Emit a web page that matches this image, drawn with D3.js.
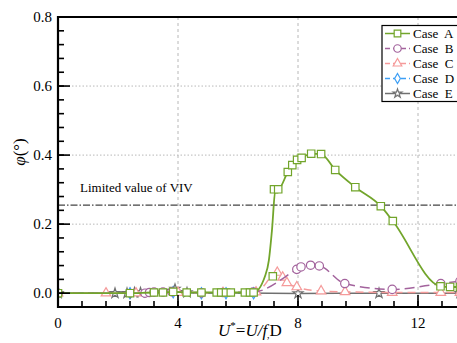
<!DOCTYPE html>
<html>
<head>
<meta charset="utf-8">
<script src="https://cdn.jsdelivr.net/npm/d3@7"></script>
<style>
  body { margin: 0; background: #fff; }
  svg { font-family: "Liberation Serif", "DejaVu Serif", serif; }
</style>
</head>
<body>
<script>
// data
const caseA = [[0, 0.0], [2.4, 0.0], [3.2, 0.002], [3.5, 0.002], [3.84, 0.004], [4.29, 0.002], [4.78, 0.002],
  [5.29, 0.002], [5.44, 0.002], [5.6, 0.002], [5.76, 0.002], [6.23, 0.002], [6.4, 0.002], [6.52, 0.002],
  [7.2, 0.301], [7.34, 0.301], [7.66, 0.351], [7.81, 0.371], [7.97, 0.386], [8.12, 0.392],
  [8.44, 0.404], [8.77, 0.403], [9.24, 0.357], [9.91, 0.307], [10.76, 0.252], [11.16, 0.209],
  [12.75, 0.02], [13.07, 0.018], [13.4, 0.018]]
// lone square below the jump (not on the line)
const caseAExtra = [[7.16, 0.049]]
// where the steep rise of the Case A line passes
const caseARise = [[6.9, 0.049], [7.03, 0.096], [7.13, 0.18], [7.25, 0.301]]
const caseB = [[0, 0.0], [2.9, 0.0], [3.05, 0.002], [3.2, 0.003], [3.5, 0.003], [3.8, 0.004], [4.78, 0.001],
  [5.5, 0.002], [6.5, 0.003], [7.96, 0.069], [8.1, 0.076], [8.42, 0.081], [8.71, 0.079], [9.56, 0.028],
  [11.14, 0.011], [12.76, 0.028], [13.4, 0.035]]
const caseC = [[0, 0.0], [1.6, 0.0], [2.6, 0.0], [4.0, 0.002], [5.5, 0.001], [6.6, 0.003], [7.31, 0.060],
  [7.49, 0.046], [7.63, 0.030], [7.96, 0.018], [8.77, 0.006], [9.57, 0.004], [11.14, 0.002],
  [12.76, 0.002], [13.4, 0.002]]
const caseD = [[0, 0.0], [2.4, 0.0], [3.84, 0.003], [4.78, 0.0], [5.6, 0.0], [6.52, 0.0]]
const caseE = [[0, 0.0], [1.9, 0.0], [2.3, 0.0], [2.55, 0.002], [2.75, 0.002], [3.9, 0.012], [4.3, 0.002],
  [8.0, -0.001], [10.7, 0.0], [13.4, 0.0]]
const limitVIV = 0.255
const xTicks = [0, 4, 8, 12]
const yTicks = [0, 0.2, 0.4, 0.6, 0.8]

const width = 457
const height = 343
const mLeft = 58, mTop = 17, mRight = 457, mBottom = 307

const x = d3.scaleLinear().domain([0, 13.3]).range([mLeft, mRight])
const y = d3.scaleLinear().domain([-0.04, 0.8]).range([mBottom, mTop])

const svg = d3.select('body').append('svg').attr('width', width).attr('height', height)

svg.append('defs').append('clipPath').attr('id', 'clip')
  .append('rect').attr('x', mLeft).attr('y', mTop).attr('width', mRight - mLeft).attr('height', mBottom - mTop)

// grid
svg.append('g').selectAll('line').data(xTicks.slice(1)).join('line')
  .attr('x1', (d) => x(d)).attr('x2', (d) => x(d)).attr('y1', mTop).attr('y2', mBottom)
  .attr('stroke', '#b8b8b8').attr('stroke-width', 1).attr('stroke-dasharray', '3,3')
svg.append('g').selectAll('line').data(yTicks.slice(1, -1)).join('line')
  .attr('x1', mLeft).attr('x2', mRight).attr('y1', (d) => y(d)).attr('y2', (d) => y(d))
  .attr('stroke', '#b8b8b8').attr('stroke-width', 1).attr('stroke-dasharray', '1.5,2')

// limit line
svg.append('line')
  .attr('x1', mLeft).attr('x2', mRight).attr('y1', y(limitVIV)).attr('y2', y(limitVIV))
  .attr('stroke', '#444').attr('stroke-width', 1.1).attr('stroke-dasharray', '7,2,1.5,2')
svg.append('text').attr('x', 80).attr('y', y(limitVIV) - 13)
  .attr('font-size', 13).text('Limited value of VIV')

// series
const lineA = caseA.filter((d) => d[0] < 6.6)
  .concat(caseARise, caseA.filter((d) => d[0] > 7.3))
const series = [
  { name: 'Case  D', data: caseD, color: '#3d9ff5', dash: '6,4', shape: d3.symbolDiamond, size: 36 },
  { name: 'Case  E', data: caseE, color: '#707070', dash: null, shape: d3.symbolStar, size: 30 },
  { name: 'Case  C', data: caseC, color: '#f59a9a', dash: '8,5', shape: d3.symbolTriangle, size: 40 },
  { name: 'Case  B', data: caseB, color: '#a3639d', dash: '10,5', shape: d3.symbolCircle, size: 55 },
  { name: 'Case  A', data: caseA.concat(caseAExtra), path: lineA, color: '#72a52b', dash: null, shape: d3.symbolSquare, size: 55 },
]

const line = d3.line().x((d) => x(d[0])).y((d) => y(d[1])).curve(d3.curveMonotoneX)
const plot = svg.append('g').attr('clip-path', 'url(#clip)')

series.forEach((s) => {
  plot.append('path').datum(s.path || s.data)
    .attr('d', line).attr('fill', 'none').attr('stroke', s.color)
    .attr('stroke-width', s.name === 'Case  A' ? 1.8 : 1.5)
    .attr('stroke-dasharray', s.dash)
  plot.append('g').selectAll('path').data(s.data).join('path')
    .attr('transform', (d) => `translate(${x(d[0])},${y(d[1])})`)
    .attr('d', d3.symbol(s.shape, s.size))
    .attr('fill', '#fff').attr('stroke', s.color).attr('stroke-width', 1.2)
})

// axes
const xAxis = svg.append('g')
xAxis.append('g').selectAll('line').data(d3.range(0, 13.3, 0.8)).join('line')
  .attr('x1', (d) => x(d)).attr('x2', (d) => x(d)).attr('y1', mBottom).attr('y2', mBottom - 6)
  .attr('stroke', '#000').attr('stroke-width', 1.6)
xAxis.append('g').selectAll('line').data(xTicks).join('line')
  .attr('x1', (d) => x(d)).attr('x2', (d) => x(d)).attr('y1', mBottom).attr('y2', mBottom - 12)
  .attr('stroke', '#000').attr('stroke-width', 1.6)
xAxis.append('g').selectAll('text').data(xTicks).join('text')
  .attr('x', (d) => x(d)).attr('y', mBottom + 21).attr('text-anchor', 'middle')
  .attr('font-size', 15).text((d) => d)

const yAxis = svg.append('g')
yAxis.append('g').selectAll('line').data(d3.range(-0.04, 0.81, 0.04)).join('line')
  .attr('x1', mLeft).attr('x2', mLeft + 6).attr('y1', (d) => y(d)).attr('y2', (d) => y(d))
  .attr('stroke', '#000').attr('stroke-width', 1.6)
yAxis.append('g').selectAll('line').data(yTicks).join('line')
  .attr('x1', mLeft).attr('x2', mLeft + 12).attr('y1', (d) => y(d)).attr('y2', (d) => y(d))
  .attr('stroke', '#000').attr('stroke-width', 1.6)
yAxis.append('g').selectAll('text').data(yTicks).join('text')
  .attr('x', mLeft - 6).attr('y', (d) => y(d) + 5).attr('text-anchor', 'end')
  .attr('font-size', 15).text((d) => d.toFixed(1))

// frame
svg.append('path')
  .attr('d', `M${mRight},${mTop}H${mLeft}V${mBottom}H${mRight}`)
  .attr('fill', 'none').attr('stroke', '#000').attr('stroke-width', 2.2)

// axis titles
const xt = svg.append('text').attr('x', 218).attr('y', 336).attr('font-size', 17)
xt.append('tspan').attr('font-style', 'italic').text('U')
xt.append('tspan').attr('font-size', 11).attr('dy', -7).text('*')
xt.append('tspan').attr('dy', 7).text('=')
xt.append('tspan').attr('font-style', 'italic').text('U/f')
xt.append('tspan').attr('font-size', 10).attr('dy', 2).text(',')
xt.append('tspan').attr('dy', -2).text('D')

const yt = svg.append('text').attr('transform', 'translate(25,152) rotate(-90)')
  .attr('text-anchor', 'middle').attr('font-size', 17)
yt.append('tspan').attr('font-style', 'italic').text('φ')
yt.append('tspan').text('(°)')

// legend
const lg = svg.append('g')
lg.append('rect').attr('x', 382).attr('y', 25.5).attr('width', 80).attr('height', 76)
  .attr('fill', '#fff').attr('stroke', '#000').attr('stroke-width', 1.2)
const legendOrder = ['Case  A', 'Case  B', 'Case  C', 'Case  D', 'Case  E']
legendOrder.forEach((name, i) => {
  const s = series.find((t) => t.name === name)
  const ly = 33.5 + i * 15
  lg.append('line').attr('x1', 385).attr('x2', 410).attr('y1', ly).attr('y2', ly)
    .attr('stroke', s.color).attr('stroke-width', 1.5)
    .attr('stroke-dasharray', s.dash ? '5,3' : null)
  lg.append('path').attr('transform', `translate(397.5,${ly})`)
    .attr('d', d3.symbol(s.shape, s.size * 0.8))
    .attr('fill', '#fff').attr('stroke', s.color).attr('stroke-width', 1.2)
  lg.append('text').attr('x', 413).attr('y', ly + 4.5).attr('font-size', 13)
    .style('white-space', 'pre').text(name)
})
</script>
</body>
</html>
